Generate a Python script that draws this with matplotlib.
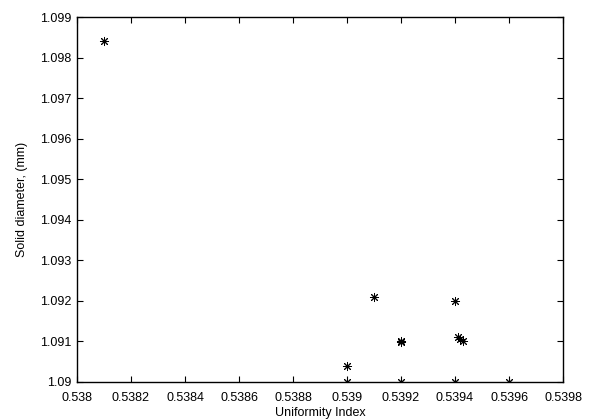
import numpy as np
import matplotlib
matplotlib.use("Agg")
import matplotlib.pyplot as plt
from matplotlib.ticker import FormatStrFormatter

# uniformity index vs solid diameter
uniformity = [0.5381, 0.5390, 0.5390, 0.5391, 0.5392, 0.5392, 0.5392,
              0.5394, 0.53941, 0.53942, 0.53943, 0.5394, 0.5396]
diameter = [1.0984, 1.0904, 1.0900, 1.0921, 1.0910, 1.09098, 1.0900,
            1.0920, 1.0911, 1.09105, 1.0910, 1.0900, 1.0900]

xticks = np.linspace(0.538, 0.5398, 10)
yticks = np.linspace(1.090, 1.099, 10)

plt.rcParams["font.family"] = ["Liberation Sans", "DejaVu Sans"]
plt.rcParams["font.size"] = 9

fig = plt.figure(figsize=(5.89, 4.2), dpi=100)
ax = fig.add_axes([0.1307, 0.0905, 0.8253, 0.869])
# MATLAB-style '*' marker: plus and cross overlaid
ax.plot(uniformity, diameter, linestyle="none", marker=(8, 2, 0), color="black",
        markersize=6.5, markeredgewidth=0.7)

ax.set_xlim(0.538, 0.5398)
ax.set_ylim(1.090, 1.099)
ax.set_xticks(xticks)
ax.set_yticks(yticks)
ax.xaxis.set_major_formatter(FormatStrFormatter("%g"))
ax.yaxis.set_major_formatter(FormatStrFormatter("%g"))
ax.tick_params(direction="in", length=4, width=0.8, top=True, right=True,
               labelsize=9)
ax.tick_params(axis="x", pad=7)
ax.tick_params(axis="y", pad=4)
for s in ax.spines.values():
    s.set_linewidth(1.0)

ax.set_xlabel("Uniformity Index", fontsize=9, labelpad=2.5)
ax.set_ylabel("Solid diameter, (mm)", fontsize=9, labelpad=9)

fig.savefig("out.png", dpi=100, facecolor="white")
